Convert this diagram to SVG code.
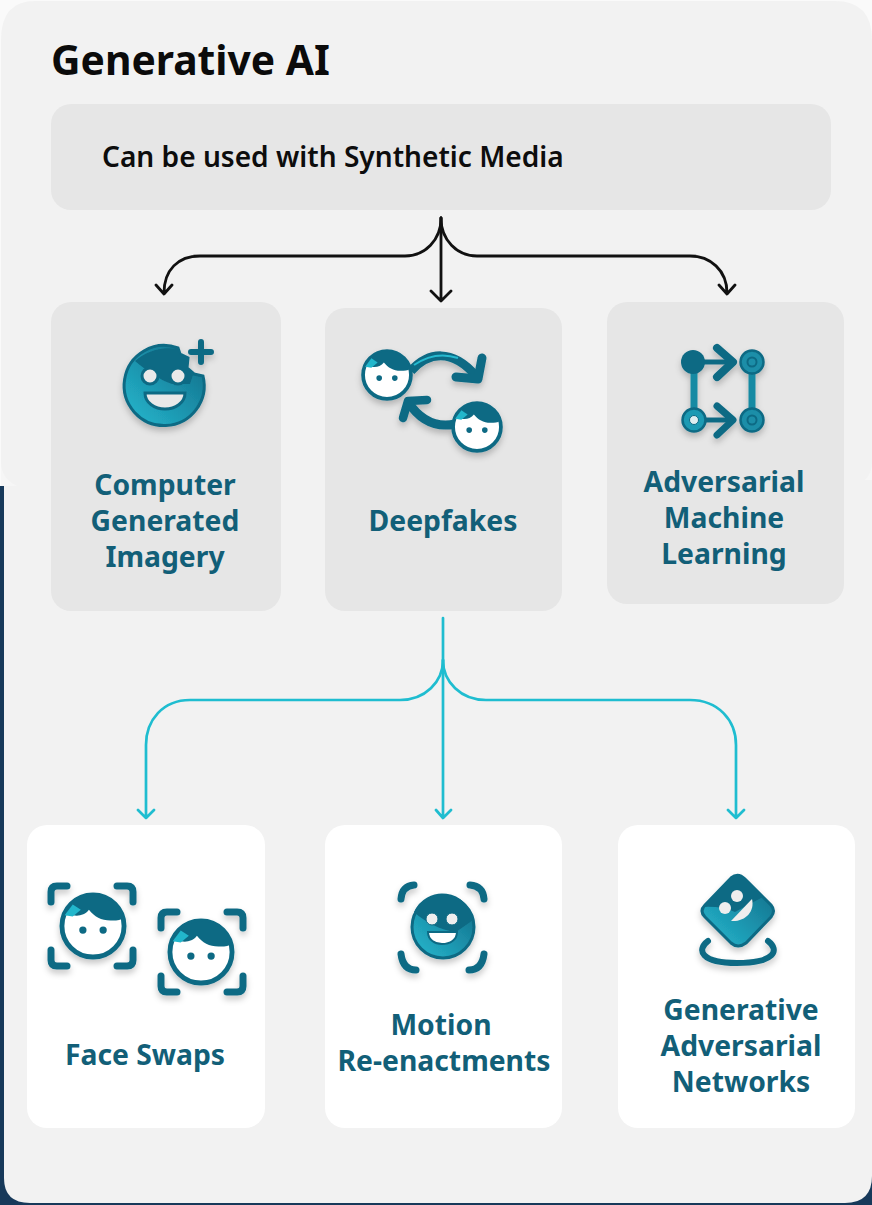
<svg xmlns="http://www.w3.org/2000/svg" width="872" height="1205" viewBox="0 0 872 1205">
<style>
.t{font-family:"Noto Sans","Open Sans",sans-serif;font-weight:700;font-size:28.3px;fill:#125f78;text-anchor:middle}
.k{fill:none;stroke:#111;stroke-width:2.800;stroke-linecap:round;stroke-linejoin:round}
.c{fill:none;stroke:#1fbdd0;stroke-width:2.700;stroke-linecap:round;stroke-linejoin:round}
.o{fill:none;stroke:#0f6a84;stroke-linecap:round;stroke-linejoin:round}
.g{fill:#e6e6e6}.w{fill:#fff}
</style>
<defs>
<linearGradient id="gr" x1="0" y1="1" x2="1" y2="0"><stop offset="0" stop-color="#25bad0"/><stop offset=".55" stop-color="#1b8ea8"/><stop offset="1" stop-color="#0f6a84"/></linearGradient>
<filter id="s" x="-20%" y="-20%" width="140%" height="150%"><feGaussianBlur stdDeviation=".5" result="b"/><feDropShadow in="b" dx="0" dy="4" stdDeviation="3" flood-color="#000" flood-opacity=".22"/></filter>
<g id="face"><circle r="23" fill="#fff" stroke="#0f6a84" stroke-width="3.600"/><path d="M-21-9A23 23 0 0 1 22-6C20-4 17-4 13-4C6-4 1-7-3-12C-6-8-11-7-15-8Z" fill="#0f6a84"/><path d="M-21-8L-15-7L-9-12L-15-16Z" fill="#22b7cc"/><circle cx="-7.500" cy="3" r="2.700" fill="#0f6a84"/><circle cx="7.500" cy="3" r="2.700" fill="#0f6a84"/></g>
<g id="brk" class="o" stroke-width="7"><path d="M-41-24V-34Q-41-40-35-40H-25"/><path d="M41-24V-34Q41-40 35-40H25"/><path d="M-41 24V34Q-41 40-35 40H-25"/><path d="M41 24V34Q41 40 35 40H25"/></g>
</defs>
<rect width="872" height="1205" fill="#f6f6f6"/>
<rect x="0" y="486" width="872" height="719" fill="#17395a"/>
<path d="M4 486V1178Q4 1203 30 1203H845Q872 1203 872 1176V480Z" fill="#f2f2f2"/>
<rect x="1" y="1" width="871" height="486" rx="24" fill="#f2f2f2"/>
<path d="M0 0H872V40Q872 1 835 1H35Q1 1 1 40V486H0Z" fill="#fafafa"/>
<text x="51" y="75" font-family="Noto Sans,Open Sans,sans-serif" font-weight="700" font-size="40.8" fill="#0b0b0b">Generative AI</text>
<g id="media"><rect x="51" y="104" width="780" height="106" rx="20" class="g"/><text x="102" y="167" font-family="Noto Sans,Open Sans,sans-serif" font-weight="600" font-size="28.1" fill="#0d0d0d">Can be used with Synthetic Media</text></g>
<g id="connectors">
<path class="k" d="M441 218V301M431 291L441 301L451 291"/>
<path class="k" d="M441 218C441 240 425 256 405 256H200C178 256 164 270 164 293M156 285L164 294L172 285"/>
<path class="k" d="M441 218C441 240 457 256 477 256H690C710 256 727 270 727 293M719 285L727 294L735 285"/>
<path class="c" d="M443 618V818M436 810L443 818L451 810"/>
<path class="c" d="M443 660C443 682 425 700 400 700H190C163 700 146 720 146 745V818M138 810L146 818L154 810"/>
<path class="c" d="M443 660C443 682 461 700 486 700H690C718 700 736 720 736 745V818M728 810L736 818L744 810"/>
</g>
<g id="cgi"><rect x="51" y="302" width="230" height="309" rx="20" class="g"/>
<g filter="url(#s)"><path d="M178 348L180 354L188 358L187 368L194 374L203 376A40 40 0 1 1 178 348Z" fill="url(#gr)" stroke="#0f6a84" stroke-width="3"/><path d="M177 349L180 355L187 359L186 368L193 375L190 384H172C160 380 147 371 135 361C146 351 162 346 177 349Z" fill="#0f6a84"/><circle cx="150" cy="376" r="8" fill="#e9e9e9" stroke="#0f6a84" stroke-width="3"/><circle cx="178" cy="376" r="8" fill="#e9e9e9" stroke="#0f6a84" stroke-width="3"/><path d="M145 393H185C185 403 175 409 165 409C155 409 145 403 145 393Z" fill="#e9e9e9" stroke="#0f6a84" stroke-width="3"/><path class="o" stroke-width="6" d="M201 342V362M191 352H211"/></g>
<text class="t" x="165" y="495">Computer</text><text class="t" x="165" y="531">Generated</text><text class="t" x="165" y="567">Imagery</text></g>
<g id="deepfakes"><rect x="325" y="308" width="237" height="303" rx="20" class="g"/>
<g filter="url(#s)"><path d="M411 371C428 352 452 348 476 376" fill="none" stroke="#0f6a84" stroke-width="9"/><path d="M414 365C430 354 446 354 458 358" fill="none" stroke="#25bad0" stroke-width="2"/><path class="o" stroke-width="9" d="M482 358L478 379L456 377"/><path d="M455 424C436 428 420 420 408 402" fill="none" stroke="#0f6a84" stroke-width="9"/><path class="o" stroke-width="8.500" d="M403 418L408 401L427 400"/><use href="#face" transform="translate(387 375) scale(1.04)"/><use href="#face" transform="translate(477 427) scale(1.04)"/></g>
<text class="t" x="443" y="531">Deepfakes</text></g>
<g id="aml"><rect x="607" y="302" width="237" height="302" rx="20" class="g"/>
<g filter="url(#s)"><path d="M694 362V422" stroke="#178aa3" stroke-width="7"/><path d="M752 362V422" stroke="#178aa3" stroke-width="7"/><path d="M694 362H733M694 420H733" stroke="#0f6a84" stroke-width="5"/><path class="o" stroke-width="8" d="M717 348L733 362L717 377"/><path class="o" stroke-width="7" d="M717 406L733 420L717 435"/><circle cx="693" cy="362" r="12" fill="#0f6a84"/><circle cx="694" cy="420" r="11.500" fill="#1b9ab3" stroke="#0f6a84" stroke-width="2.500"/><circle cx="694" cy="420" r="4.500" fill="#dfeef0" stroke="#0f6a84" stroke-width="1"/><circle cx="752" cy="362" r="11.500" fill="#1b8ea8" stroke="#0f6a84" stroke-width="2.500"/><circle cx="752" cy="362" r="4.500" fill="none" stroke="#0f6a84" stroke-width="2"/><circle cx="752" cy="420" r="11.500" fill="#1b8ea8" stroke="#0f6a84" stroke-width="2.500"/><circle cx="752" cy="420" r="4.500" fill="none" stroke="#0f6a84" stroke-width="2"/></g>
<text class="t" x="724" y="492">Adversarial</text><text class="t" x="724" y="528">Machine</text><text class="t" x="724" y="564">Learning</text></g>
<g id="swaps"><rect x="27" y="825" width="238" height="303" rx="20" class="w"/>
<g filter="url(#s)"><use href="#brk" x="92" y="926"/><use href="#face" transform="translate(93 926) scale(1.35)"/><use href="#brk" x="202" y="952"/><use href="#face" transform="translate(201 952) scale(1.35)"/></g>
<text class="t" x="145" y="1065">Face Swaps</text></g>
<g id="motion"><rect x="325" y="825" width="237" height="303" rx="20" class="w"/>
<g filter="url(#s)" class="o" stroke-width="7"><path d="M401 899Q402 886 414 885"/><path d="M484 899Q483 886 470 885"/><path d="M401 954Q403 970 416 970"/><path d="M484 954Q482 970 469 970"/></g>
<g filter="url(#s)"><circle cx="443" cy="927" r="31" fill="url(#gr)" stroke="#0f6a84" stroke-width="3"/><path d="M414 912A31 31 0 0 1 473 920L456 932C440 930 425 922 414 912Z" fill="#0f6a84"/><circle cx="432" cy="919" r="6" fill="#eee" stroke="#0f6a84" stroke-width="1"/><circle cx="452" cy="919" r="6" fill="#eee" stroke="#0f6a84" stroke-width="1"/><path d="M428 932H457C457 940 450 944 442 944C435 944 428 940 428 932Z" fill="#fff" stroke="#0f6a84" stroke-width="2"/></g>
<text class="t" x="441" y="1035">Motion</text><text class="t" x="444" y="1071">Re-enactments</text></g>
<g id="gan"><rect x="618" y="825" width="237" height="303" rx="20" class="w"/>
<g filter="url(#s)"><path d="M731 878Q738 872 745 879L771 905Q776 911 771 917L746 943Q738 949 731 943L705 917Q699 911 705 905Z" fill="url(#gr)" stroke="#0f6a84" stroke-width="3"/><path d="M731 878Q738 872 745 879L763 897L735 912Q722 906 703 907Z" fill="#0f6a84"/><circle cx="737" cy="896" r="6" fill="#eee"/><circle cx="725" cy="908" r="6" fill="#eee"/><path d="M752 899C755 912 745 922 731 921Z" fill="#eee"/><path class="o" stroke-width="6" d="M708 941C696 950 701 963 737 963C775 963 780 950 768 941"/></g>
<text class="t" x="741" y="1020">Generative</text><text class="t" x="741" y="1056">Adversarial</text><text class="t" x="741" y="1092">Networks</text></g>
</svg>
